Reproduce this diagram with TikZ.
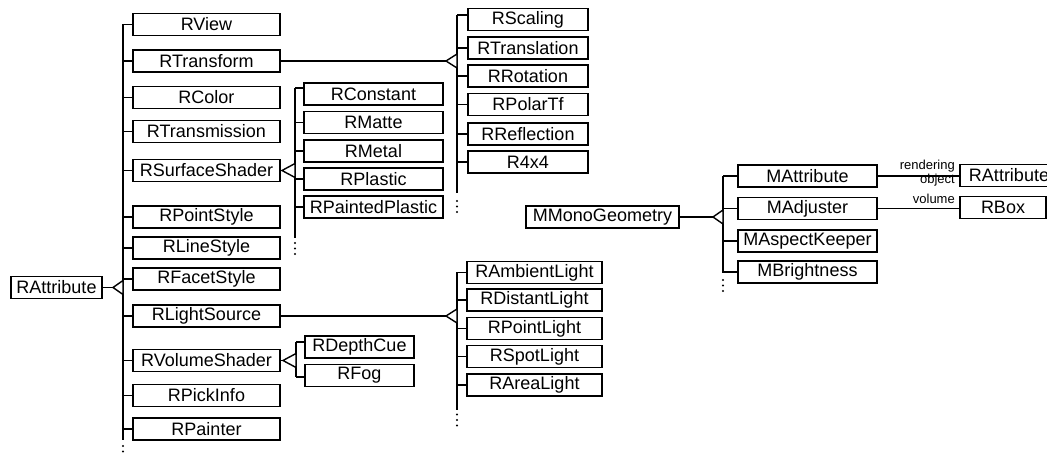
\documentclass[tikz,border=0pt]{standalone}
\usepackage{fontspec}
\setmainfont{Liberation Sans}
\tikzset{
  cls/.style={draw, line width=1.4pt, inner sep=0pt, minimum height=22pt, font=\fontsize{18}{20}\selectfont},
  conn/.style={line width=1.4pt},
  tri/.style={line width=1.4pt, fill=white, line join=miter},
  lbl/.style={font=\fontsize{13}{14}\selectfont, inner sep=0pt},
  dotm/.style={fill=black}
}
\begin{document}
\begin{tikzpicture}[x=1pt,y=-1pt]
\useasboundingbox (0,0) rectangle (1047,454);
% ---------- root ----------
\node[cls, minimum width=91] (ra) at (56.5,287.5) {RAttribute};
% ---------- level 1 ----------
\node[cls, minimum width=147] (rview) at (206.5,24.5) {RView};
\node[cls, minimum width=147] (rtransform) at (206.5,61) {RTransform};
\node[cls, minimum width=147] (rcolor) at (206.5,97.5) {RColor};
\node[cls, minimum width=147] (rtransmission) at (206.5,131.5) {RTransmission};
\node[cls, minimum width=147] (rsurf) at (206.5,170.5) {RSurfaceShader};
\node[cls, minimum width=147] (rpoint) at (206.5,217) {RPointStyle};
\node[cls, minimum width=147] (rline) at (206.5,248) {RLineStyle};
\node[cls, minimum width=147] (rfacet) at (206.5,279) {RFacetStyle};
\node[cls, minimum width=147] (rlight) at (206.5,316) {RLightSource};
\node[cls, minimum width=147] (rvol) at (206.5,360.5) {RVolumeShader};
\node[cls, minimum width=147] (rpick) at (206.5,395.5) {RPickInfo};
\node[cls, minimum width=147] (rpainter) at (206.5,429) {RPainter};
% ---------- transform children ----------
\node[cls, minimum width=120] (rscal) at (528,19.5) {RScaling};
\node[cls, minimum width=120] (rtransl) at (528,48) {RTranslation};
\node[cls, minimum width=120] (rrot) at (528,76) {RRotation};
\node[cls, minimum width=120] (rpolar) at (528,104.5) {RPolarTf};
\node[cls, minimum width=120] (rrefl) at (528,134) {RReflection};
\node[cls, minimum width=120] (rmat) at (528,162) {R4x4};
% ---------- surface shader children ----------
\node[cls, minimum width=139] (rconst) at (373.5,94) {RConstant};
\node[cls, minimum width=139] (rmatte) at (373.5,122.5) {RMatte};
\node[cls, minimum width=139] (rmetal) at (373.5,151) {RMetal};
\node[cls, minimum width=139] (rplastic) at (373.5,179) {RPlastic};
\node[cls, minimum width=139] (rpainted) at (373.5,207) {RPaintedPlastic};
% ---------- light children ----------
\node[cls, minimum width=135] (ramb) at (534.5,272.5) {RAmbientLight};
\node[cls, minimum width=135] (rdist) at (534.5,300) {RDistantLight};
\node[cls, minimum width=135] (rpl) at (534.5,328.5) {RPointLight};
\node[cls, minimum width=135] (rspot) at (534.5,356.5) {RSpotLight};
\node[cls, minimum width=135] (rarea) at (534.5,385) {RAreaLight};
% ---------- volume children ----------
\node[cls, minimum width=109] (rdepth) at (359.5,347) {RDepthCue};
\node[cls, minimum width=109] (rfog) at (359.5,375.5) {RFog};
% ---------- mono geometry ----------
\node[cls, minimum width=153] (mmono) at (602.5,217) {MMonoGeometry};
\node[cls, minimum width=139] (mattr) at (807.5,176) {MAttribute};
\node[cls, minimum width=139] (madj) at (807.5,208.5) {MAdjuster};
\node[cls, minimum width=139] (masp) at (807.5,241) {MAspectKeeper};
\node[cls, minimum width=139] (mbright) at (807.5,272) {MBrightness};
\node[cls, minimum width=98] (rattr2) at (1009,175.5) {RAttribute};
\node[cls, minimum width=86] (rbox) at (1003,207.5) {RBox};
% ---------- trunk 1 (RAttribute) ----------
\coordinate (t1top) at (123,24.5);
\coordinate (t1bot) at (123,440);
\coordinate (tip1) at (113,287.5);
\draw[conn] (t1top) -- (t1bot);
\draw[conn] (ra.east) -- (tip1);
\draw[tri] (tip1) -- (123,280.5) -- (123,294.5) -- cycle;
\foreach \n in {rview,rtransform,rcolor,rtransmission,rsurf,rpoint,rline,rfacet,rlight,rvol,rpick,rpainter}
  \draw[conn] (t1top |- \n.west) -- (\n.west);
\fill[dotm] (123,446) circle (1.1pt) (123,451.5) circle (1.1pt) (123,457) circle (1.1pt);
% ---------- trunk 2 (RTransform) ----------
\coordinate (t2top) at (457,15);
\coordinate (t2bot) at (457,193);
\coordinate (tip2) at (446,61);
\draw[conn] (t2top) -- (t2bot);
\draw[conn] (rtransform.east) -- (tip2);
\draw[tri] (tip2) -- (457,54) -- (457,68) -- cycle;
\draw[conn] (t2top) -- (t2top -| rscal.west);
\foreach \n in {rtransl,rrot,rpolar,rrefl,rmat}
  \draw[conn] (t2top |- \n.west) -- (\n.west);
\fill[dotm] (457,201) circle (1.1pt) (457,206.5) circle (1.1pt) (457,212) circle (1.1pt);
% ---------- trunk 3 (RSurfaceShader) ----------
\coordinate (t3top) at (295,88);
\coordinate (t3bot) at (295,238);
\coordinate (tip3) at (282,170.5);
\draw[conn] (t3top) -- (t3bot);
\draw[conn] (rsurf.east) -- (tip3);
\draw[tri] (tip3) -- (295,163.5) -- (295,177.5) -- cycle;
\draw[conn] (t3top) -- (t3top -| rconst.west);
\foreach \n in {rmatte,rmetal,rplastic,rpainted}
  \draw[conn] (t3top |- \n.west) -- (\n.west);
\fill[dotm] (295,243) circle (1.1pt) (295,248.5) circle (1.1pt) (295,254) circle (1.1pt);
% ---------- trunk 4 (RLightSource) ----------
\coordinate (t4top) at (457,272.5);
\coordinate (t4bot) at (457,410);
\coordinate (tip4) at (446,316);
\draw[conn] (t4top) -- (t4bot);
\draw[conn] (rlight.east) -- (tip4);
\draw[tri] (tip4) -- (457,309) -- (457,323) -- cycle;
\foreach \n in {ramb,rdist,rpl,rspot,rarea}
  \draw[conn] (t4top |- \n.west) -- (\n.west);
\fill[dotm] (457,414.5) circle (1.1pt) (457,420) circle (1.1pt) (457,425.5) circle (1.1pt);
% ---------- trunk 5 (RVolumeShader) ----------
\coordinate (t5top) at (296,342);
\coordinate (t5bot) at (296,377);
\coordinate (tip5) at (283,360.5);
\draw[conn] (t5top) -- (t5bot);
\draw[conn] (rvol.east) -- (tip5);
\draw[tri] (tip5) -- (296,353.5) -- (296,367.5) -- cycle;
\draw[conn] (t5top) -- (t5top -| rdepth.west);
\draw[conn] (t5bot) -- (t5bot -| rfog.west);
% ---------- trunk 6 (MMonoGeometry) ----------
\coordinate (t6top) at (723,176);
\coordinate (t6bot) at (723,273);
\coordinate (tip6) at (713,217);
\draw[conn] (t6top) -- (t6bot);
\draw[conn] (mmono.east) -- (tip6);
\draw[tri] (tip6) -- (723,210) -- (723,224) -- cycle;
\foreach \n in {mattr,madj,masp,mbright}
  \draw[conn] (t6top |- \n.west) -- (\n.west);
\fill[dotm] (723,280) circle (1.1pt) (723,285.5) circle (1.1pt) (723,291) circle (1.1pt);
% ---------- associations ----------
\draw[conn] (mattr.east) -- (mattr.east -| rattr2.west);
\draw[conn] (madj.east) -- (madj.east -| rbox.west);
\node[lbl, anchor=base east] (l1) at (955,169.5) {rendering};
\node[lbl, anchor=base east] (l2) at (955,184) {object};
\node[lbl, anchor=base east] (l3) at (955,203.5) {volume};
\end{tikzpicture}
\end{document}
